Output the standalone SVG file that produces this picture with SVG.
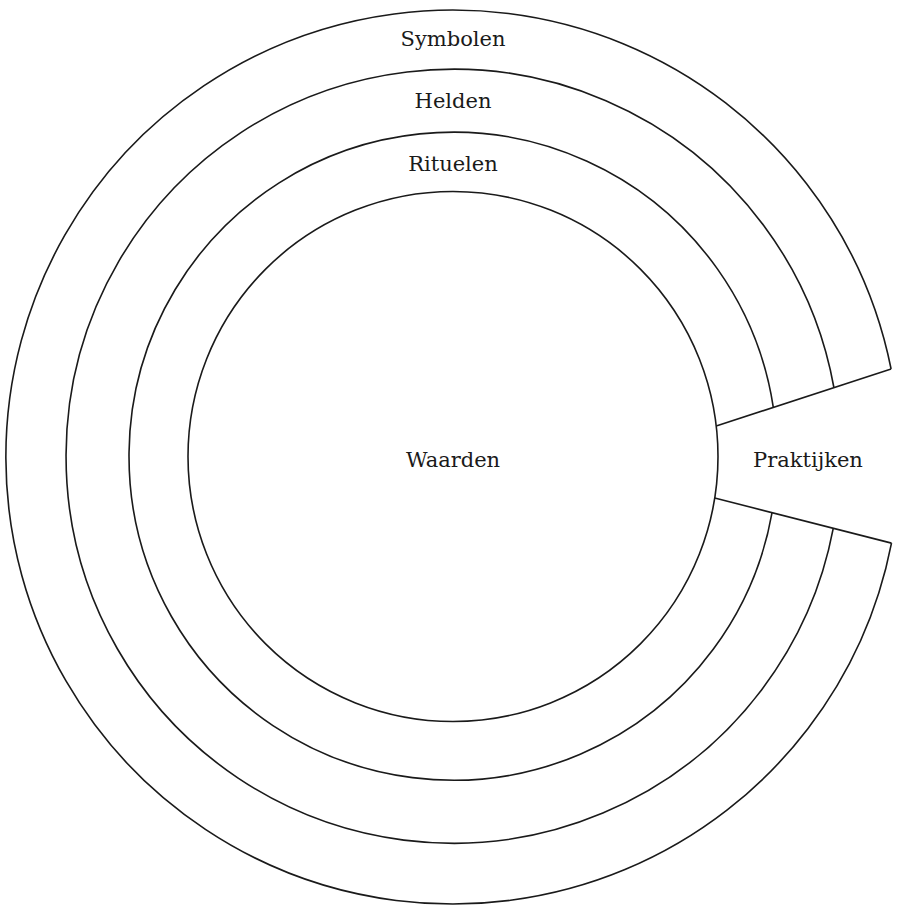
<svg xmlns="http://www.w3.org/2000/svg" width="898" height="905" viewBox="0 0 898 905">
  <style>
    .ring { fill: none; stroke: #1a1a1a; stroke-width: 1.6; }
    .lbl { font-family: "DejaVu Serif", "Liberation Serif", serif; font-size: 21px; fill: #1a1a1a; text-anchor: middle; }
  </style>
  <rect x="0" y="0" width="898" height="905" fill="#ffffff"/>
  <g id="symbolen">
    <path class="ring" d="M 891.1 369 A 447 447 0 1 0 891.5 543.1"/>
    <text class="lbl" x="453" y="46">Symbolen</text>
  </g>
  <g id="helden">
    <path class="ring" d="M 833.9 387.5 A 387 387 0 1 0 833.3 528.2"/>
    <text class="lbl" x="453" y="108">Helden</text>
  </g>
  <g id="rituelen">
    <path class="ring" d="M 773.3 407.3 A 324 324 0 1 0 772.1 512.4"/>
    <text class="lbl" x="453" y="171">Rituelen</text>
  </g>
  <g id="waarden">
    <circle class="ring" cx="453" cy="456.5" r="265"/>
    <text class="lbl" x="453" y="467">Waarden</text>
  </g>
  <g id="praktijken">
    <text class="lbl" x="808" y="467">Praktijken</text>
  </g>
  <g id="connectors">
    <line class="ring" x1="716.2" y1="426" x2="891.1" y2="369"/>
    <line class="ring" x1="714.7" y1="498" x2="891.5" y2="543.1"/>
  </g>
</svg>
